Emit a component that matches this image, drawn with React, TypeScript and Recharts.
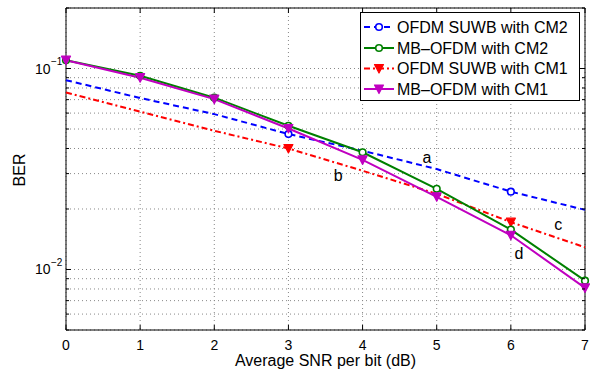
import React from 'react';
import { LineChart, Line, XAxis, YAxis, CartesianGrid, ReferenceArea, ReferenceDot } from 'recharts';

const snr = [0, 1, 2, 3, 4, 5, 6, 7];
const suwbCm2 = [0.0875, 0.0713, 0.0593, 0.0472, 0.039, 0.0316, 0.0244, 0.0198];
const mbCm2 = [0.11, 0.092, 0.0716, 0.0519, 0.0383, 0.0252, 0.0158, 0.0088];
const suwbCm1 = [0.076, 0.061, 0.049, 0.04, 0.031, 0.0238, 0.0172, 0.0129];
const mbCm1 = [0.11, 0.09, 0.0704, 0.0503, 0.0351, 0.023, 0.0148, 0.0081];
const suwbMarkerSnr = [3, 6];

const xTicks = [0, 1, 2, 3, 4, 5, 6, 7];
const yTicks = [0.005, 0.006, 0.007, 0.008, 0.009, 0.01, 0.02, 0.03, 0.04, 0.05, 0.06, 0.07, 0.08, 0.09, 0.1, 0.2];
const yMajor = [0.01, 0.1];
const yMajorLabels = ['−2', '−1'];

const noteLabels = ['a', 'b', 'c', 'd'];
const noteSnr = [4.87, 3.67, 6.64, 6.11];
const noteBer = [0.0363, 0.0295, 0.0167, 0.0121];

const legendNames = ['OFDM SUWB with CM2', 'MB\u2013OFDM with CM2', 'OFDM SUWB with CM1', 'MB\u2013OFDM with CM1'];

const data = snr.map((s, i) => ({ snr: s, suwbCm2: suwbCm2[i], mbCm2: mbCm2[i], suwbCm1: suwbCm1[i], mbCm1: mbCm1[i] }));

const W = 590;
const H = 370;
const M = { top: 8, right: 5, left: 0, bottom: 0 };
const YW = 66;
const XH = 40;
const LEFT = M.left + YW;
const RIGHT = W - M.right;
const TOP = M.top;
const BOTTOM = H - M.bottom - XH;
const FONT = '"Liberation Sans", Arial, Helvetica, sans-serif';

const BLUE = '#0000ff';
const GREEN = '#008000';
const RED = '#ff0000';
const MAG = '#c000c0';

const circle = (cx: number, cy: number, color: string, key?: any) => (
  <circle key={key} cx={cx} cy={cy} r={3.3} fill="#fff" stroke={color} strokeWidth={1.6} />
);
const triDown = (cx: number, cy: number, color: string, key?: any) => (
  <polygon key={key} points={`${cx - 4.5},${cy - 4} ${cx + 4.5},${cy - 4} ${cx},${cy + 4.5}`} fill={color} stroke={color} strokeWidth={1.2} strokeLinejoin="round" />
);

const suwbDot = (shape: 'o' | 'v', color: string) => (p: any) => {
  if (!suwbMarkerSnr.includes(p.payload.snr)) return <g key={p.index} />;
  return shape === 'o' ? circle(p.cx, p.cy, color, p.index) : triDown(p.cx, p.cy, color, p.index);
};

const XTick = (p: any) => {
  const { x, payload } = p;
  return (
    <g>
      <line x1={x} x2={x} y1={BOTTOM} y2={BOTTOM - 5} stroke="#000" />
      <line x1={x} x2={x} y1={TOP} y2={TOP + 5} stroke="#000" />
      <text x={x} y={349.5} textAnchor="middle" fontSize={14} fontFamily={FONT} fill="#000">{payload.value}</text>
    </g>
  );
};

const YTick = (p: any) => {
  const { y, payload } = p;
  const mi = yMajor.findIndex((v) => Math.abs(v - payload.value) < 1e-9);
  const len = mi >= 0 ? 5 : 3;
  return (
    <g>
      <line x1={LEFT} x2={LEFT + len} y1={y} y2={y} stroke="#000" />
      <line x1={RIGHT} x2={RIGHT - len} y1={y} y2={y} stroke="#000" />
      {mi >= 0 && (
        <g fontFamily={FONT} fill="#000">
          <text x={50.5} y={y + 5} textAnchor="end" fontSize={14}>10</text>
          <text x={51} y={y - 3.5} textAnchor="start" fontSize={10}>{yMajorLabels[mi]}</text>
        </g>
      )}
    </g>
  );
};

const legendStyles = [
  { color: BLUE, dash: '6 4', marker: 'o' },
  { color: GREEN, dash: undefined, marker: 'o' },
  { color: RED, dash: '6 3 2 3', marker: 'v' },
  { color: MAG, dash: undefined, marker: 'v' },
];
const legendRowY = [27, 48, 68.5, 89];

const Legend = () => (
  <svg width={W} height={H} style={{ position: 'absolute', left: 0, top: 0, pointerEvents: 'none' }}>
    <rect x={360.5} y={12.5} width={219} height={88} fill="#fff" stroke="#000" strokeWidth={1} />
    {legendNames.map((name, i) => {
      const s = legendStyles[i];
      const y = legendRowY[i];
      return (
        <g key={name}>
          <line x1={364} x2={394} y1={y} y2={y} stroke={s.color} strokeWidth={2} strokeDasharray={s.dash} />
          {s.marker === 'o' ? circle(379, y, s.color) : triDown(379, y, s.color)}
          <text x={397} y={y + 5.5} fontSize={16} fontFamily={FONT} fill="#000">{name}</text>
        </g>
      );
    })}
  </svg>
);

export default function App() {
  return (
    <div style={{ position: 'absolute', left: 0, top: 0, width: W, height: H, background: '#fff' }}>
      <LineChart width={W} height={H} data={data} margin={M}>
        <CartesianGrid stroke="#888" strokeDasharray="1 3" ticks={undefined} />
        <XAxis
          dataKey="snr"
          type="number"
          domain={[0, 7]}
          ticks={xTicks}
          interval={0}
          height={XH}
          axisLine={false}
          tickLine={false}
          tick={<XTick />}
          label={{
            content: () => (
              <text x={(LEFT + RIGHT) / 2} y={365.5} textAnchor="middle" fontSize={16} fontFamily={FONT} fill="#000">
                Average SNR per bit (dB)
              </text>
            ),
          }}
        />
        <YAxis
          scale="log"
          type="number"
          domain={[0.005, 0.2]}
          allowDataOverflow
          ticks={yTicks}
          interval={0}
          width={YW}
          axisLine={false}
          tickLine={false}
          tick={<YTick />}
          label={{
            content: () => (
              <text x={25} y={170} transform="rotate(-90 25 170)" textAnchor="middle" fontSize={16} fontFamily={FONT} fill="#000">
                BER
              </text>
            ),
          }}
        />
        <Line dataKey="suwbCm2" stroke={BLUE} strokeWidth={2} strokeDasharray="6 4" dot={suwbDot('o', BLUE)} isAnimationActive={false} />
        <Line dataKey="suwbCm1" stroke={RED} strokeWidth={2} strokeDasharray="6 3 2 3" dot={suwbDot('v', RED)} isAnimationActive={false} />
        <Line dataKey="mbCm2" stroke={GREEN} strokeWidth={2} dot={(p: any) => circle(p.cx, p.cy, GREEN, p.index)} isAnimationActive={false} />
        <Line dataKey="mbCm1" stroke={MAG} strokeWidth={2} dot={(p: any) => triDown(p.cx, p.cy, MAG, p.index)} isAnimationActive={false} />
        {noteLabels.map((t, i) => (
          <ReferenceDot
            key={t}
            x={noteSnr[i]}
            y={noteBer[i]}
            r={0}
            fill="none"
            stroke="none"
            label={{ value: t, position: 'center', fontSize: 16, fontFamily: FONT, fill: '#000' }}
          />
        ))}
        <ReferenceArea x1={0} x2={7} y1={0.005} y2={0.2} fill="none" stroke="#000" strokeWidth={1} />
      </LineChart>
      <Legend />
    </div>
  );
}
